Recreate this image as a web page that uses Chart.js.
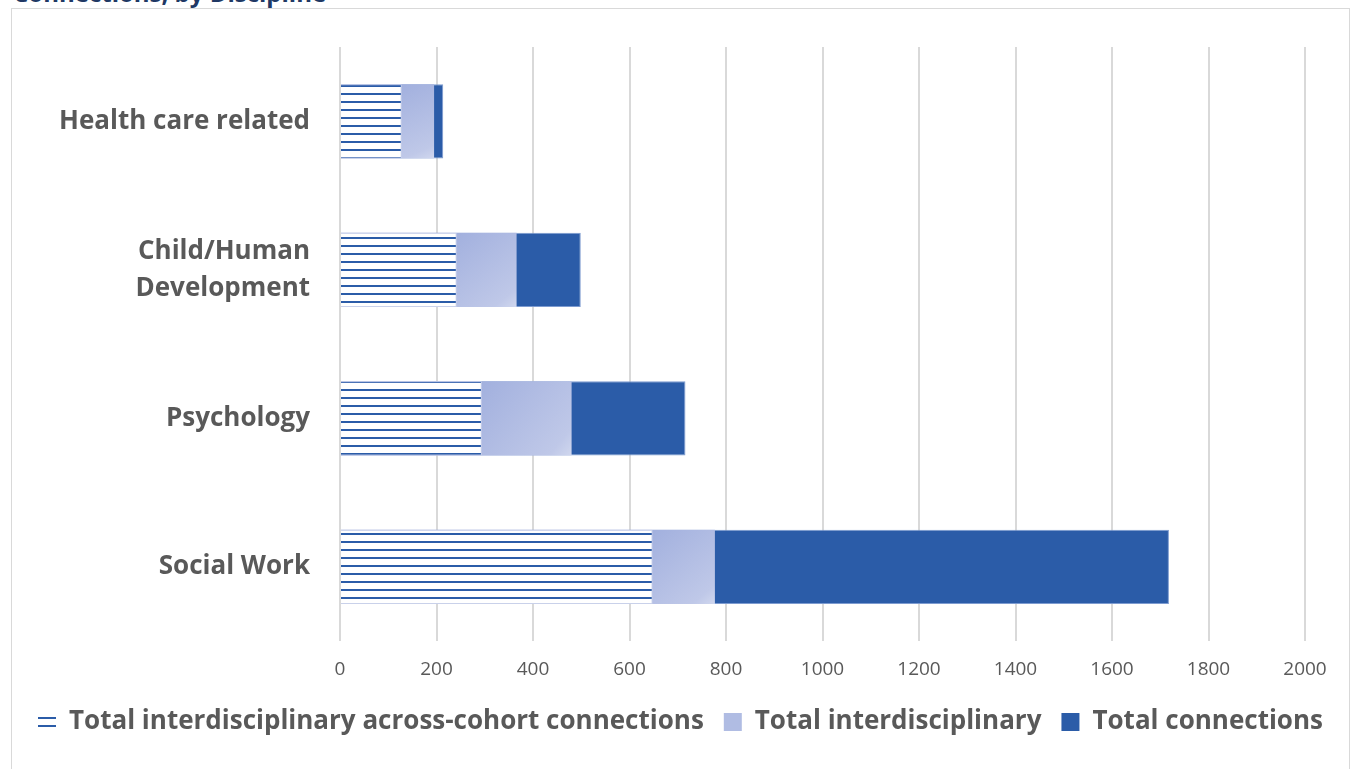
<!DOCTYPE html>
<html>
<head>
<meta charset="utf-8">
<script src="https://cdn.jsdelivr.net/npm/chart.js@4"></script>
<style>
    body { margin: 0; background: #fff; overflow: hidden; }
    #titulo {
        position: absolute; left: 13px; top: -24px;
        font: bold 24px "Open Sans", sans-serif; color: #203864;
    }
    #marco {
        position: absolute; left: 11px; top: 8px; width: 1337px; height: 800px;
        border: 1px solid #d9d9d9;
    }
    #wrap { position: absolute; left: 0; top: 0; width: 1337px; height: 760px; }
</style>
</head>
<body>
<div id="titulo">Connections, by Discipline</div>
<div id="marco">
    <div id="wrap"><canvas id="chartDisciplina"></canvas></div>
</div>
<script>
// Datos
const disciplinas = ['Health care related', ['Child/Human', 'Development'], 'Psychology', 'Social Work'];
const acrossCohort = [128, 242, 294, 648];
const interdisciplinary = [195, 366, 480, 777];
const totalConnections = [214, 499, 716, 1718];
const xTicks = [0, 200, 400, 600, 800, 1000, 1200, 1400, 1600, 1800, 2000];

const azul = '#2b5ca8';
const gris = '#595959';

const canvas = document.getElementById('chartDisciplina');
const ctx2d = canvas.getContext('2d');

// Patrón de rayas horizontales
function rayas() {
    const c = document.createElement('canvas');
    c.width = 8; c.height = 8;
    const g = c.getContext('2d');
    g.fillStyle = '#ffffff';
    g.fillRect(0, 0, 8, 8);
    g.fillStyle = azul;
    g.fillRect(0, 4, 8, 2);
    return ctx2d.createPattern(c, 'repeat');
}
const patron = rayas();

// Degradado diagonal para la parte visible de cada barra
function degradado(context) {
    const chart = context.chart;
    if (!chart.chartArea || context.type !== 'data') return '#b0bce3';
    const sx = chart.scales.x, sy = chart.scales.y;
    const i = context.dataIndex;
    const xa = sx.getPixelForValue(acrossCohort[i]);
    const xb = sx.getPixelForValue(interdisciplinary[i]);
    const yc = sy.getPixelForValue(i);
    const h = (sy.getPixelForValue(1) - sy.getPixelForValue(0)) / 4;
    const g = chart.ctx.createLinearGradient(xa, yc - h, xb, yc + h);
    g.addColorStop(0, '#a2b0de');
    g.addColorStop(0.85, '#bfc8e8');
    g.addColorStop(1, '#d0d7ee');
    return g;
}

new Chart(canvas, {
    type: 'bar',
    data: {
        labels: disciplinas,
        datasets: [{
            label: 'Total interdisciplinary across-cohort connections',
            data: acrossCohort,
            backgroundColor: patron,
            borderColor: '#c9d1ea',
            borderWidth: 1
        }, {
            label: 'Total interdisciplinary',
            data: interdisciplinary,
            backgroundColor: degradado,
            borderWidth: 0
        }, {
            label: 'Total connections',
            data: totalConnections,
            backgroundColor: azul,
            borderColor: '#7d9bd0',
            borderWidth: 1
        }]
    },
    options: {
        indexAxis: 'y',
        responsive: true,
        maintainAspectRatio: false,
        animation: false,
        barPercentage: 0.5,
        categoryPercentage: 1,
        layout: { padding: { top: 38, right: 0, bottom: 24, left: 0 } },
        scales: {
            x: {
                min: 0,
                max: 2000,
                afterBuildTicks: (scale) => { scale.ticks = xTicks.map(v => ({ value: v })); },
                afterFit: (scale) => { scale.height = 48; },
                grid: { color: '#d9d9d9', lineWidth: 2, drawTicks: false },
                border: { display: false },
                ticks: {
                    color: gris, padding: 17,
                    font: { family: 'Open Sans', size: 19 },
                    callback: (v) => String(v)
                }
            },
            y: {
                stacked: true,
                afterFit: (scale) => {
                    scale.width = 328;
                    scale.paddingTop = 0;
                    scale.paddingBottom = 0;
                },
                grid: { display: false, drawTicks: false },
                border: { display: false },
                ticks: {
                    color: gris, padding: 30,
                    font: { family: 'Open Sans', size: 26, weight: 'bold', lineHeight: 1.42 }
                }
            },
            // eje vacío a la derecha, solo para reservar el margen
            margen: {
                axis: 'y',
                type: 'category',
                position: 'right',
                grid: { display: false, drawTicks: false },
                border: { display: false },
                ticks: { display: false },
                afterFit: (scale) => {
                    scale.width = 44;
                    scale.paddingTop = 0;
                    scale.paddingBottom = 0;
                }
            }
        },
        plugins: {
            tooltip: { enabled: false },
            legend: {
                position: 'bottom',
                labels: {
                    color: gris,
                    boxWidth: 18,
                    boxHeight: 18,
                    padding: 20,
                    font: { family: 'Open Sans', size: 26, weight: 'bold' },
                    generateLabels: (chart) => chart.data.datasets.map((ds, i) => ({
                        text: ds.label,
                        fillStyle: i === 0 ? patron : (i === 1 ? '#b0bce3' : azul),
                        strokeStyle: i === 0 ? '#ffffff' : (i === 1 ? '#b0bce3' : azul),
                        lineWidth: 0,
                        fontColor: gris,
                        datasetIndex: i,
                        hidden: false
                    }))
                }
            }
        }
    }
});
</script>
</body>
</html>
